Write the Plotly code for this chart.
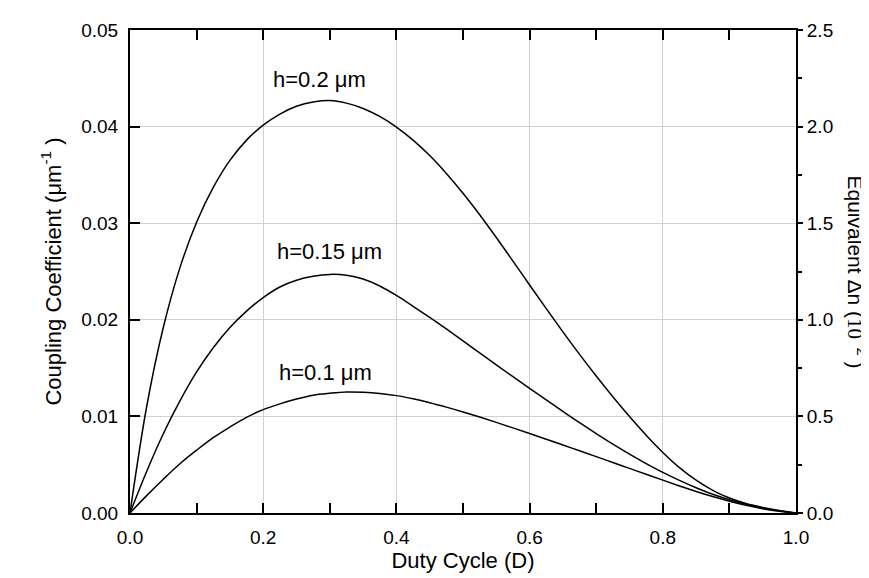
import plotly.graph_objects as go

# Duty cycle values (x), step 0.025
duty = [0, 0.025, 0.05, 0.075, 0.1, 0.125, 0.15, 0.175, 0.2, 0.225, 0.25, 0.275, 0.3,
        0.325, 0.35, 0.375, 0.4, 0.425, 0.45, 0.475, 0.5, 0.525, 0.55, 0.575, 0.6,
        0.625, 0.65, 0.675, 0.7, 0.725, 0.75, 0.775, 0.8, 0.825, 0.85, 0.875, 0.9,
        0.925, 0.95, 0.975, 1.0]

# Coupling coefficient (um^-1) for each grating depth
kappa_h020 = [0, 0.01100, 0.01920, 0.02540, 0.03010, 0.03370, 0.03650, 0.03860, 0.04015,
              0.04130, 0.04210, 0.04255, 0.04270, 0.04243, 0.04188, 0.04105, 0.03995,
              0.03860, 0.03700, 0.03515, 0.03310, 0.03088, 0.02852, 0.02608, 0.02360,
              0.02115, 0.01875, 0.01642, 0.01418, 0.01203, 0.00998, 0.00805, 0.00627,
              0.00470, 0.00340, 0.00235, 0.00155, 0.00098, 0.00057, 0.00025, 0]
kappa_h015 = [0, 0.00430, 0.00820, 0.01160, 0.01460, 0.01710, 0.01920, 0.02090, 0.02230,
              0.02340, 0.02410, 0.02450, 0.02470, 0.02462, 0.02422, 0.02350, 0.02252,
              0.02140, 0.02025, 0.01905, 0.01782, 0.01658, 0.01534, 0.01411, 0.01290,
              0.01170, 0.01052, 0.00935, 0.00822, 0.00713, 0.00610, 0.00512, 0.00421,
              0.00338, 0.00262, 0.00194, 0.00137, 0.00090, 0.00052, 0.00022, 0]
kappa_h010 = [0, 0.00180, 0.00350, 0.00510, 0.00650, 0.00780, 0.00890, 0.00990, 0.01070,
              0.01130, 0.01180, 0.01220, 0.01240, 0.01253, 0.01250, 0.01238, 0.01215,
              0.01182, 0.01142, 0.01096, 0.01046, 0.00993, 0.00938, 0.00881, 0.00823,
              0.00764, 0.00704, 0.00644, 0.00584, 0.00523, 0.00462, 0.00401, 0.00340,
              0.00280, 0.00223, 0.00170, 0.00122, 0.00080, 0.00045, 0.00018, 0]

curve_labels = ["h=0.2 \u03bcm", "h=0.15 \u03bcm", "h=0.1 \u03bcm"]
label_x = [0.285, 0.300, 0.293]
label_y = [0.0449, 0.0271, 0.01453]

FONT = "Liberation Sans, Arial, sans-serif"

fig = go.Figure()
for ys in (kappa_h020, kappa_h015, kappa_h010):
    fig.add_trace(go.Scatter(x=duty, y=ys, mode="lines",
                             line=dict(color="black", width=1.5, shape="spline", smoothing=1.0),
                             showlegend=False, hoverinfo="skip"))
# secondary axis anchor trace (no visible marks)
fig.add_trace(go.Scatter(x=[None], y=[None], yaxis="y2", showlegend=False, hoverinfo="skip"))

for t, x, y in zip(curve_labels, label_x, label_y):
    fig.add_annotation(x=x, y=y, text=t, showarrow=False, xref="x", yref="y",
                       font=dict(size=22, color="black", family=FONT))

fig.update_layout(
    width=869, height=578,
    margin=dict(l=122, r=81, t=13, b=73),
    paper_bgcolor="white", plot_bgcolor="white",
    font=dict(family=FONT, color="black", size=19),
    xaxis=dict(range=[0, 1.0], dtick=0.2, tick0=0, tickformat=".1f",
               showline=True, linecolor="black", linewidth=2, mirror="allticks",
               ticks="inside", ticklen=10, tickwidth=1.5, tickcolor="black",
               showgrid=True, gridcolor="#d0d0d0", gridwidth=1, zeroline=False,
               ticklabelstandoff=6,
               minor=dict(dtick=0.1, ticks="inside", ticklen=5, tickcolor="black", showgrid=False),
               title=dict(text="Duty Cycle (D)", font=dict(size=22), standoff=6)),
    yaxis=dict(range=[0, 0.05], dtick=0.01, tick0=0, tickformat=".2f",
               showline=True, linecolor="black", linewidth=2,
               ticks="inside", ticklen=10, tickwidth=1.5, tickcolor="black",
               showgrid=True, gridcolor="#d0d0d0", gridwidth=1, zeroline=False,
               ticklabelstandoff=6,
               title=dict(text="Coupling Coefficient (\u03bcm<sup>-1</sup> )", font=dict(size=22), standoff=14)),
    yaxis2=dict(range=[0, 2.5], dtick=0.5, tick0=0, tickformat=".1f", overlaying="y", side="right",
                showline=True, linecolor="black", linewidth=2,
                ticks="outside", ticklen=5, tickwidth=1.5, tickcolor="black",
                showgrid=False, zeroline=False,
                minor=dict(dtick=0.25, ticks="outside", ticklen=4, tickcolor="black")),
)

fig.add_annotation(x=1.0, xref="paper", xanchor="center", xshift=60,
                   y=0.5, yref="paper", yanchor="middle",
                   text="Equivalent \u0394n (<span style=\"font-family:'Liberation Serif',serif\">10</span><sup>\u22122</sup> )",
                   textangle=90, showarrow=False, font=dict(size=21, family=FONT))

fig.write_html("out.html")
